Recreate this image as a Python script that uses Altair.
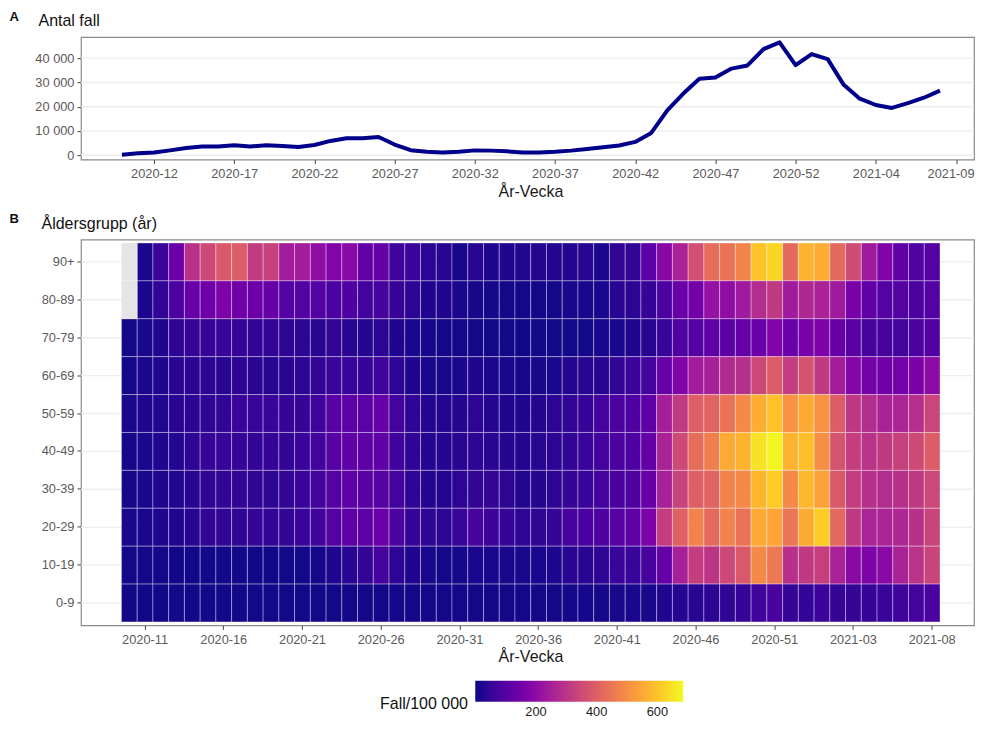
import altair as alt
import pandas as pd

weeks = [f"2020-{w:02d}" for w in range(10, 54)] + [f"2021-{w:02d}" for w in range(1, 9)]
top_domain = weeks + ["2021-09"]
top_ticks = ["2020-12","2020-17","2020-22","2020-27","2020-32","2020-37","2020-42","2020-47","2020-52","2021-04","2021-09"]
bottom_ticks = ["2020-11","2020-16","2020-21","2020-26","2020-31","2020-36","2020-41","2020-46","2020-51","2021-03","2021-08"]
ages = ["90+","80-89","70-79","60-69","50-59","40-49","30-39","20-29","10-19","0-9"]
case_ticks = [0, 10000, 20000, 30000, 40000]

cases = [200,800,1100,2000,3000,3600,3600,4100,3600,4100,3800,3400,4200,5900,7000,7000,7500,4400,2100,1400,
         1100,1400,2000,1900,1600,1100,1100,1400,1900,2600,3300,4000,5500,9200,18500,25400,31500,32000,35700,37000,
         43700,46500,37100,41700,39600,29000,23300,20700,19500,21500,23700,26600]

r90 = [None,15,60,140,290,350,385,395,315,330,240,240,205,180,195,125,130,65,60,35,30,10,30,20,20,22,22,22,25,30,15,45,45,110,190,255,360,430,445,480,600,630,425,570,560,425,355,235,175,120,95,100]
r80 = [None,15,45,85,130,145,170,145,140,130,100,100,100,85,90,70,75,50,35,20,20,15,10,10,8,8,8,8,12,12,15,30,35,50,85,135,150,215,205,235,280,310,235,270,255,235,160,120,100,100,85,100]
r70 = [8,12,20,40,50,50,55,50,45,45,35,35,30,45,30,25,35,20,15,10,8,8,5,5,5,3,5,5,5,5,15,15,20,30,55,90,100,120,110,125,135,175,135,160,170,130,105,75,75,70,85,95]
r60 = [8,15,20,30,35,35,30,35,30,30,30,35,45,55,55,50,65,35,20,15,12,15,20,15,12,10,12,15,25,30,30,45,60,70,130,175,240,250,275,285,345,395,320,370,310,240,185,150,145,150,165,200]
r50 = [12,20,22,30,35,40,45,55,55,55,50,50,65,105,110,110,130,70,40,25,22,25,35,25,20,20,25,35,45,50,70,85,90,115,245,310,400,410,445,490,560,595,510,555,510,395,305,280,255,260,285,340]
r40 = [10,15,20,25,40,50,55,50,45,50,45,55,70,105,120,115,120,65,40,25,25,30,35,30,25,22,28,35,45,55,70,85,90,125,255,350,430,470,555,570,650,680,570,590,500,375,320,295,310,330,350,395]
r30 = [10,12,18,22,30,40,45,45,40,40,45,55,70,100,115,105,105,70,40,25,22,35,45,50,35,22,25,35,50,55,70,80,90,130,250,335,400,410,480,490,575,610,490,580,540,385,320,290,280,290,310,345]
r20 = [12,15,18,20,30,45,45,40,50,45,45,55,65,100,115,110,140,90,50,40,35,55,75,60,50,35,40,50,75,80,90,105,115,170,320,405,480,425,480,445,555,545,450,555,615,420,310,260,260,270,290,335]
r10 = [8,8,8,6,6,5,5,5,3,3,5,5,8,18,30,45,75,35,20,12,8,10,15,15,12,12,15,18,30,30,40,55,55,75,125,250,320,300,345,385,490,455,290,310,325,255,195,170,195,255,295,335]
r00 = [6,6,6,5,5,5,5,5,5,5,5,5,5,5,8,8,8,8,8,8,8,8,8,8,8,8,8,8,10,10,10,12,15,12,20,25,30,35,40,50,65,80,50,45,60,50,50,50,55,65,70,85]
rows = [r90,r80,r70,r60,r50,r40,r30,r20,r10,r00]

FONT = "Liberation Sans"
W = 893.5
line_df = pd.DataFrame({"week": weeks, "cases": cases})
heat_df = pd.DataFrame([{"week": w, "age": a, "rate": v}
                        for a, row in zip(ages, rows) for w, v in zip(weeks, row)])
valid_df = heat_df[heat_df.rate.notna()]
miss_df = heat_df[heat_df.rate.isna()][["week", "age"]]

axis_common = dict(labelFont=FONT, titleFont=FONT, labelFontSize=12.8, labelColor="#5a5a5a",
                   titleFontSize=16, titleColor="#1a1a1a", titleFontWeight="normal",
                   tickColor="#444444", tickSize=4, domain=False)


def note(txt, px, py, size, weight="normal"):
    return alt.Chart(pd.DataFrame({"t": [txt]})).mark_text(
        align="left", baseline="middle", font=FONT, fontSize=size, fontWeight=weight, color="#111111"
    ).encode(text="t:N", x=alt.value(px), y=alt.value(py))


GRID = dict(color="#eeeeee", strokeWidth=1.4)

x_top = alt.X("week:O", scale=alt.Scale(domain=top_domain, type="point", padding=0, range=[41, 875.5]),
              axis=alt.Axis(values=top_ticks, labelAngle=0, title="År-Vecka", grid=False, titleX=449.75,
                            titlePadding=3, labelPadding=4, labelFlush=True, labelFlushOffset=18, **axis_common))
y_top = alt.Y("cases:Q", scale=alt.Scale(domain=[-1800, 48650], nice=False, zero=False),
              axis=alt.Axis(values=case_ticks, title=None, grid=False, labelPadding=3,
                            labelExpr="replace(format(datum.value, ','), ',', ' ')", **axis_common))
top_grid = alt.Chart(pd.DataFrame({"cases": case_ticks})).mark_rule(**GRID).encode(
    y=y_top, x=alt.value(0), x2=alt.value(W))
top = alt.layer(
    top_grid,
    alt.Chart(line_df).mark_line(color="#00008b", strokeWidth=4, strokeJoin="round").encode(x=x_top, y=y_top),
    note("A", -71.5, -20, 13, "bold"),
    note("Antal fall", -42.5, -16, 16),
).properties(width=W, height=122.5)

x_bot = alt.X("week:O", sort=weeks,
              scale=alt.Scale(domain=weeks, type="band", paddingOuter=0, paddingInner=0, range=[40.5, 859.5]),
              axis=alt.Axis(values=bottom_ticks, labelAngle=0, title="År-Vecka", grid=False, titleX=449.75,
                            titlePadding=2, labelPadding=4, **axis_common))
y_scale = alt.Scale(domain=ages, type="band", paddingOuter=0.09, paddingInner=0)
y_bot = alt.Y("age:O", sort=ages, scale=y_scale,
              axis=alt.Axis(title=None, grid=False, labelPadding=3, **axis_common))
bot_grid = alt.Chart(pd.DataFrame({"age": ages})).mark_rule(**GRID).encode(
    y=y_bot, x=alt.value(0), x2=alt.value(W))
heat = alt.Chart(valid_df).mark_rect(stroke="#ffffff", strokeWidth=0.5, strokeOpacity=0.7).encode(
    x=x_bot, y=y_bot,
    color=alt.Color("rate:Q",
                    scale=alt.Scale(scheme="plasma", domain=[0, 685], nice=False),
                    legend=alt.Legend(
                        orient="none", direction="horizontal", legendX=394.5, legendY=644,
                        title=None, values=[200, 400, 600], gradientLength=208, gradientThickness=21,
                        labelFont=FONT, labelFontSize=12.8, labelColor="#1a1a1a", labelOffset=4,
                        gradientStrokeWidth=0)),
)
missing = alt.Chart(miss_df).mark_rect(color="#e5e5e5", stroke="#ffffff", strokeWidth=0.5, strokeOpacity=0.4).encode(
    x=x_bot, y=y_bot)
bottom = alt.layer(
    bot_grid, heat, missing,
    note("B", -71.5, -21, 13, "bold"),
    note("Åldersgrupp (år)", -39.5, -16, 16),
    note("Fall/100 000", 299.2, 465, 16),
).properties(width=W, height=386)

chart = alt.vconcat(
    top, bottom, spacing=79.5, bounds="flush", padding={"left": 0, "top": 2, "right": 0, "bottom": 0}
).configure_view(stroke="#8a8a8a", strokeWidth=1.2)

chart.save("out.html", embed_options={"renderer": "svg", "actions": False})
